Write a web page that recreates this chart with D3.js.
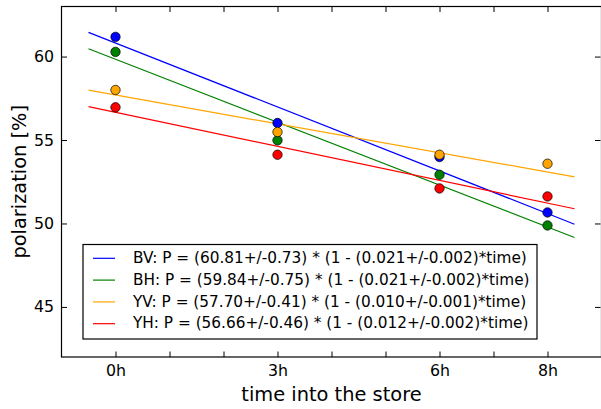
<!DOCTYPE html>
<html><head><meta charset="utf-8">
<script src="https://cdn.jsdelivr.net/npm/d3@7"></script>
<style>body{margin:0;background:#fff;} svg{display:block;font-family:"DejaVu Sans",sans-serif;}</style>
</head><body>
<svg id="c" width="601" height="409"></svg>
<script>
const hours = [0, 3, 6, 8];
const tickLabels = ["0h", "3h", "6h", "8h"];
const seriesNames = ["BV", "BH", "YV", "YH"];
const colors = ["blue", "green", "orange", "red"];
const bv = [61.18, 56.02, 53.98, 50.66];
const bh = [60.28, 54.98, 52.92, 49.88];
const yv = [58.00, 55.48, 54.12, 53.58];
const yh = [56.96, 54.12, 52.10, 51.62];
const fitA = [60.81, 59.84, 57.70, 56.66];
const fitB = [0.021, 0.021, 0.010, 0.012];
const legendTexts = [
  "BV: P = (60.81+/-0.73) * (1 - (0.021+/-0.002)*time)",
  "BH: P = (59.84+/-0.75) * (1 - (0.021+/-0.002)*time)",
  "YV: P = (57.70+/-0.41) * (1 - (0.010+/-0.001)*time)",
  "YH: P = (56.66+/-0.46) * (1 - (0.012+/-0.002)*time)"
];
const yTicks = [45, 50, 55, 60];
const xMinorTicks = [0,1,2,3,4,5,6,7,8];
const values = [bv, bh, yv, yh];

const svg = d3.select("#c");
const L = 61.5, R = 601.5, T = 6.5, B = 357;
const x = d3.scaleLinear().domain([-1, 9]).range([L, R]);
const y = d3.scaleLinear().domain([42, 63]).range([B, T]);

const g = svg.append("g");
// fit lines
const tRange = [-0.5, 8.5];
values.forEach((v, i) => {
  const line = d3.line().x(t => x(t)).y(t => y(fitA[i] * (1 - fitB[i] * t)));
  g.append("path").attr("d", line(tRange)).attr("stroke", colors[i]).attr("stroke-width", 1.2).attr("fill", "none");
});
// points
values.forEach((v, i) => {
  g.selectAll(null).data(v).enter().append("circle")
    .attr("cx", (d, j) => x(hours[j])).attr("cy", d => y(d)).attr("r", 4.7)
    .attr("fill", colors[i]).attr("stroke", "#000").attr("stroke-width", 0.7);
});

// axes frame
svg.append("rect").attr("x", L).attr("y", T).attr("width", R - L).attr("height", B - T)
  .attr("fill", "none").attr("stroke", "#000").attr("stroke-width", 1.2);

// ticks (inward), mirrored
const tl = 5.5;
const xb = d3.axisBottom(x).tickValues(xMinorTicks).tickSize(-tl).tickPadding(8)
  .tickFormat(d => { const k = hours.indexOf(d); return k >= 0 ? tickLabels[k] : ""; });
const xa = svg.append("g").attr("transform", `translate(0,${B})`).call(xb);
const xt = d3.axisTop(x).tickValues(xMinorTicks).tickSize(-tl).tickFormat("");
const xta = svg.append("g").attr("transform", `translate(0,${T})`).call(xt);
const yl = d3.axisLeft(y).tickValues(yTicks).tickSize(-tl).tickPadding(7.5).tickFormat(d3.format("d"));
const ya = svg.append("g").attr("transform", `translate(${L},0)`).call(yl);
const yr = d3.axisRight(y).tickValues(yTicks).tickSize(-tl).tickFormat("");
const yra = svg.append("g").attr("transform", `translate(${R - 1},0)`).call(yr);
[xa, xta, ya, yra].forEach(a => {
  a.select(".domain").remove();
  a.selectAll("line").attr("stroke", "#000").attr("stroke-width", 1);
  a.selectAll("text").attr("font-family", "DejaVu Sans").attr("font-size", 15.8).attr("fill", "#000");
});

// axis labels
svg.append("text").attr("x", (L + R) / 2).attr("y", 401).attr("text-anchor", "middle")
  .attr("font-size", 19.4).text("time into the store");
svg.append("text").attr("transform", `translate(26,${(T + B) / 2}) rotate(-90)`).attr("text-anchor", "middle")
  .attr("font-size", 19.4).text("polarization [%]");

// legend
const lx = 83, ly = 244.5, lw = 454, lh = 94.5;
svg.append("rect").attr("x", lx).attr("y", ly).attr("width", lw).attr("height", lh)
  .attr("fill", "#fff").attr("stroke", "#000").attr("stroke-width", 1.2);
seriesNames.forEach((n, i) => {
  const yy = 258.3 + i * 21.8;
  svg.append("line").attr("x1", 93).attr("x2", 115).attr("y1", yy).attr("y2", yy)
    .attr("stroke", colors[i]).attr("stroke-width", 1.2);
  svg.append("text").attr("x", 133).attr("y", yy + 4.6).attr("font-size", 15.3).text(legendTexts[i]);
});
</script>
</body></html>
